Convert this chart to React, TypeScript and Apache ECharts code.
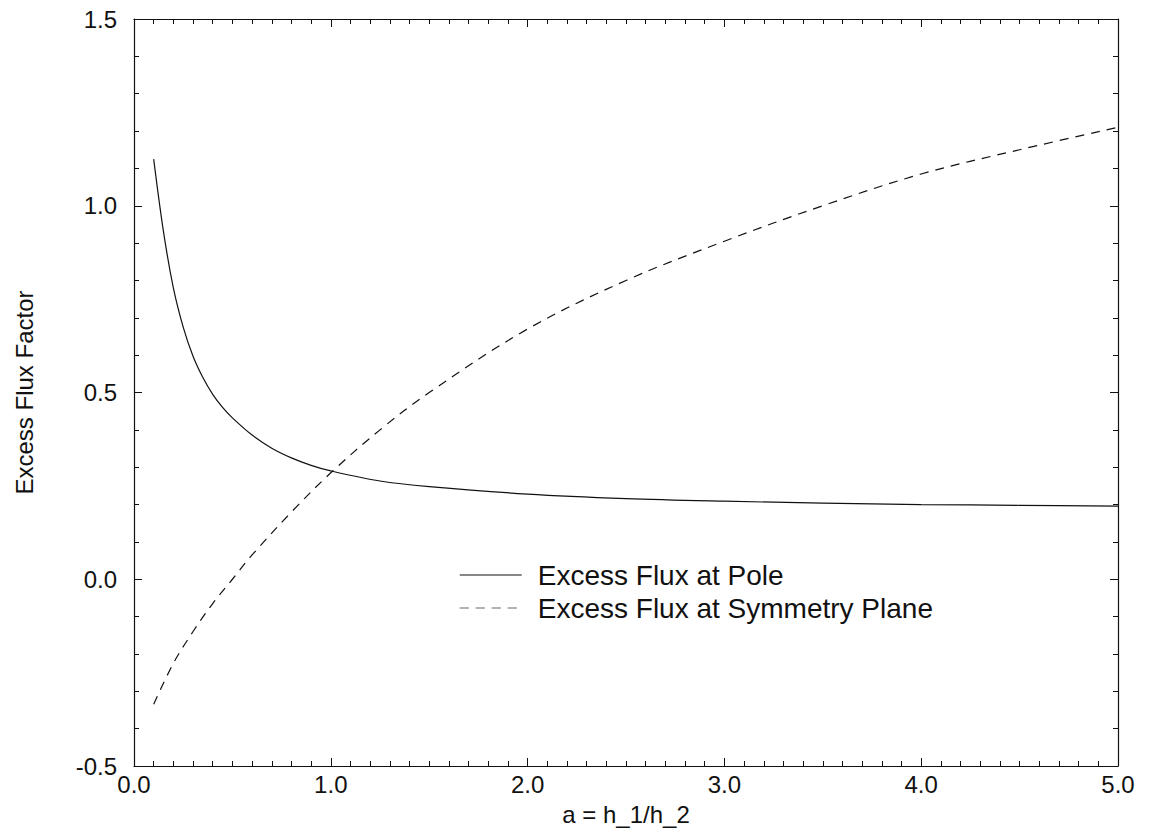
import React, { useEffect, useRef } from "react";
import * as echarts from "echarts";

const xPole = [0.1, 0.15, 0.2, 0.25, 0.3, 0.35, 0.4, 0.45, 0.5, 0.6, 0.7, 0.8, 0.9, 1.0, 1.25, 1.5, 2.0, 2.5, 3.0, 3.5, 4.0, 4.5, 5.0];
const yPole = [1.125, 0.93, 0.78, 0.675, 0.597, 0.54, 0.495, 0.46, 0.432, 0.386, 0.351, 0.325, 0.305, 0.29, 0.263, 0.248, 0.228, 0.216, 0.209, 0.204, 0.2, 0.198, 0.196];

const xSym = [0.1, 0.2, 0.3, 0.4, 0.5, 0.6, 0.8, 1.0, 1.25, 1.5, 2.0, 2.5, 3.0, 3.5, 4.0, 4.5, 5.0];
const ySym = [-0.335, -0.225, -0.14, -0.065, 0.0, 0.065, 0.18, 0.285, 0.4, 0.5, 0.67, 0.8, 0.905, 1.0, 1.085, 1.15, 1.21];

const seriesNames = ["Excess Flux at Pole", "Excess Flux at Symmetry Plane"];
const xLabel = "a = h_1/h_2";
const yLabel = "Excess Flux Factor";

const FONT = "'Liberation Sans', Arial, Helvetica, sans-serif";

export default function App() {
  const ref = useRef<HTMLDivElement>(null);
  useEffect(() => {
    if (!ref.current) return;
    const chart = echarts.init(ref.current, undefined, { renderer: "svg" });
    const axisCommon = {
      axisLine: { show: true, onZero: false, lineStyle: { color: "#111", width: 1.2 } },
      axisTick: { show: true, inside: true, length: 8, lineStyle: { color: "#111", width: 1 } },
      minorTick: { show: true, length: 5, lineStyle: { color: "#111", width: 1 } },
      splitLine: { show: false },
    };
    chart.setOption({
      animation: false,
      backgroundColor: "#fff",
      textStyle: { fontFamily: FONT },
      grid: { left: 134, right: 31, top: 19, bottom: 70, containLabel: false },
      legend: {
        orient: "vertical",
        left: 454,
        top: 556,
        itemWidth: 62,
        itemHeight: 14,
        itemGap: 5,
        itemStyle: { opacity: 0 },
        textStyle: { fontFamily: FONT, fontSize: 28, lineHeight: 27, color: "#111", padding: [0, 0, 0, 11] },
        data: [
          { name: seriesNames[0], lineStyle: { color: "#111", width: 1.2 } },
          { name: seriesNames[1], lineStyle: { color: "#999", width: 1.5 } },
        ],
      },
      xAxis: [
        {
          type: "value",
          min: 0,
          max: 5,
          interval: 1,
          position: "bottom",
          ...axisCommon,
          minorTick: { ...axisCommon.minorTick, splitNumber: 10 },
          axisLabel: {
            show: true,
            fontSize: 24,
            color: "#111",
            margin: 6,
            formatter: (v: number) => v.toFixed(1),
          },
          name: xLabel,
          nameLocation: "middle",
          nameGap: 34,
          nameTextStyle: { fontSize: 24, color: "#111", lineHeight: 28 },
        },
        {
          type: "value",
          min: 0,
          max: 5,
          interval: 1,
          position: "top",
          ...axisCommon,
          minorTick: { ...axisCommon.minorTick, splitNumber: 10 },
          axisLabel: { show: false },
        },
      ],
      yAxis: [
        {
          type: "value",
          min: -0.5,
          max: 1.5,
          interval: 0.5,
          position: "left",
          ...axisCommon,
          minorTick: { ...axisCommon.minorTick, splitNumber: 5 },
          axisLabel: {
            show: true,
            fontSize: 24,
            color: "#111",
            margin: 17,
            formatter: (v: number) => v.toFixed(1),
          },
          name: yLabel,
          nameLocation: "middle",
          nameGap: 98,
          nameRotate: 90,
          nameTextStyle: { fontSize: 24, color: "#111" },
        },
        {
          type: "value",
          min: -0.5,
          max: 1.5,
          interval: 0.5,
          position: "right",
          ...axisCommon,
          minorTick: { ...axisCommon.minorTick, splitNumber: 5 },
          axisLabel: { show: false },
        },
      ],
      series: [
        {
          name: seriesNames[0],
          type: "line",
          smooth: 0.35,
          symbol: "none",
          xAxisIndex: 0,
          yAxisIndex: 0,
          data: xPole.map((x, i) => [x, yPole[i]]),
          lineStyle: { color: "#111", width: 1.2, type: "solid" },
          itemStyle: { color: "#111" },
        },
        {
          name: seriesNames[1],
          type: "line",
          smooth: 0.35,
          symbol: "none",
          xAxisIndex: 0,
          yAxisIndex: 0,
          data: xSym.map((x, i) => [x, ySym[i]]),
          lineStyle: { color: "#111", width: 1.2, type: [9, 7] },
          itemStyle: { color: "#999" },
        },
      ],
    });
    return () => chart.dispose();
  }, []);
  return <div ref={ref} style={{ width: 1149, height: 836, margin: -8 }} />;
}
